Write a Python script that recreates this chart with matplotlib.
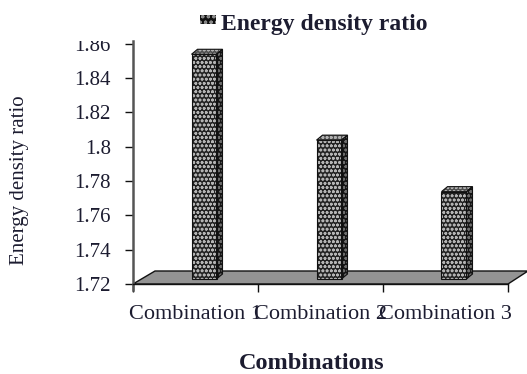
import numpy as np
import matplotlib
matplotlib.use("Agg")
import matplotlib.pyplot as plt
from matplotlib.patches import Polygon, Rectangle
from matplotlib.transforms import Bbox, TransformedBbox, IdentityTransform

# chart data
categories = ["Combination 1", "Combination 2", "Combination 3"]
ratio_values = [1.85, 1.80, 1.77]
y_ticks = [1.72, 1.74, 1.76, 1.78, 1.80, 1.82, 1.84, 1.86]
y_tick_labels = ["1.72", "1.74", "1.76", "1.78", "1.8", "1.82", "1.84", "1.86"]

plt.rcParams['font.family'] = ['Liberation Serif', 'DejaVu Serif']
plt.rcParams['hatch.linewidth'] = 0.8
text_color = '#1c1c30'

W, H = 527, 374
fig = plt.figure(figsize=(W / 100, H / 100), dpi=100)
# axes box in pixels: left 133, bottom 284, right 508, top 43.6
ax = fig.add_axes([133 / W, 90 / H, 375 / W, 240.4 / H])
ax.set_xlim(-0.5, 2.5)
ax.set_ylim(1.72, 1.86)

# data units per pixel, used for the fake 3d depth
xpp = 3.0 / 375
ypp = 0.14 / 240.4

# floor of the 3d chart
floor = Polygon([(-0.5, 1.72), (2.5, 1.72), (2.5 + 20 * xpp, 1.72 + 13 * ypp),
                 (-0.5 + 22 * xpp, 1.72 + 13 * ypp)], closed=True,
                facecolor='#939393', edgecolor='#111111', lw=1.0, clip_on=False, zorder=1)
ax.add_patch(floor)

bar_w = 25 * xpp
side_dx, side_dy = 6 * xpp, 5 * ypp
for i, v in enumerate(ratio_values):
    x0 = i - 4 * xpp
    y0 = 1.72 + 5 * ypp
    y1 = v + 6.5 * ypp
    front = [(x0, y0), (x0 + bar_w, y0), (x0 + bar_w, y1), (x0, y1)]
    side = [(x0 + bar_w, y0), (x0 + bar_w + side_dx, y0 + side_dy),
            (x0 + bar_w + side_dx, y1 + side_dy), (x0 + bar_w, y1)]
    top = [(x0, y1), (x0 + bar_w, y1), (x0 + bar_w + side_dx, y1 + side_dy),
           (x0 + side_dx, y1 + side_dy)]
    for pts, fc, hc in [(front, '#222222', '#b4b4b4'), (side, '#151515', '#6e6e6e'),
                        (top, '#505050', '#b0b0b0')]:
        ax.add_patch(Polygon(pts, closed=True, facecolor=fc, edgecolor=hc, hatch='oooo',
                             lw=0, clip_on=False, zorder=3))
        ax.add_patch(Polygon(pts, closed=True, facecolor='none', edgecolor='#111111',
                             lw=0.8, clip_on=False, zorder=4))

# spines and ticks
for s in ['top', 'right']:
    ax.spines[s].set_visible(False)
ax.spines['left'].set_color('#555555')
ax.spines['left'].set_linewidth(1.8)
ax.spines['left'].set_bounds(1.72 - 6 * ypp, 1.86 + 3 * ypp)
ax.spines['bottom'].set_color('#111111')
ax.spines['bottom'].set_linewidth(1.0)

ax.set_yticks(y_ticks)
ax.set_yticklabels(y_tick_labels)
ax.tick_params(axis='y', direction='out', length=6, width=1.0, color='#111111',
               pad=10, labelsize=15, labelcolor=text_color)

ax.set_xticks(range(len(categories)))
ax.set_xticklabels(categories)
ax.set_xticks([-0.5, 0.5, 1.5, 2.5], minor=True)
ax.tick_params(axis='x', which='major', length=0, pad=15, labelsize=16, labelcolor=text_color)
ax.tick_params(axis='x', which='minor', direction='out', length=6, width=1.0, color='#111111')

# titles and labels
fig.text(221 / W, (H - 30) / H, "Energy density ratio", fontsize=17, fontweight='bold',
         color=text_color, ha='left', va='baseline')
fig.patches.append(Rectangle((200 / W, (H - 24) / H), 16 / W, 9 / H, transform=fig.transFigure,
                             facecolor='#111111', edgecolor='#8a8a8a', hatch='ooo', lw=0,
                             figure=fig))
fig.text(20 / W, (H - 180) / H, "Energy density ratio", fontsize=15, rotation=90,
         color=text_color, ha='center', va='center')
fig.text(312 / W, (H - 369) / H, "Combinations", fontsize=17.5, fontweight='bold',
         color=text_color, ha='center', va='baseline')

# the top tick label is cut off in the original
fig.canvas.draw()
clip = TransformedBbox(Bbox([[0, 0], [W, H - 41]]), IdentityTransform())
for tick in ax.yaxis.get_major_ticks():
    tick.label1.set_clip_on(True)
    tick.label1.set_clip_box(clip)

fig.savefig("out.png", dpi=100)
